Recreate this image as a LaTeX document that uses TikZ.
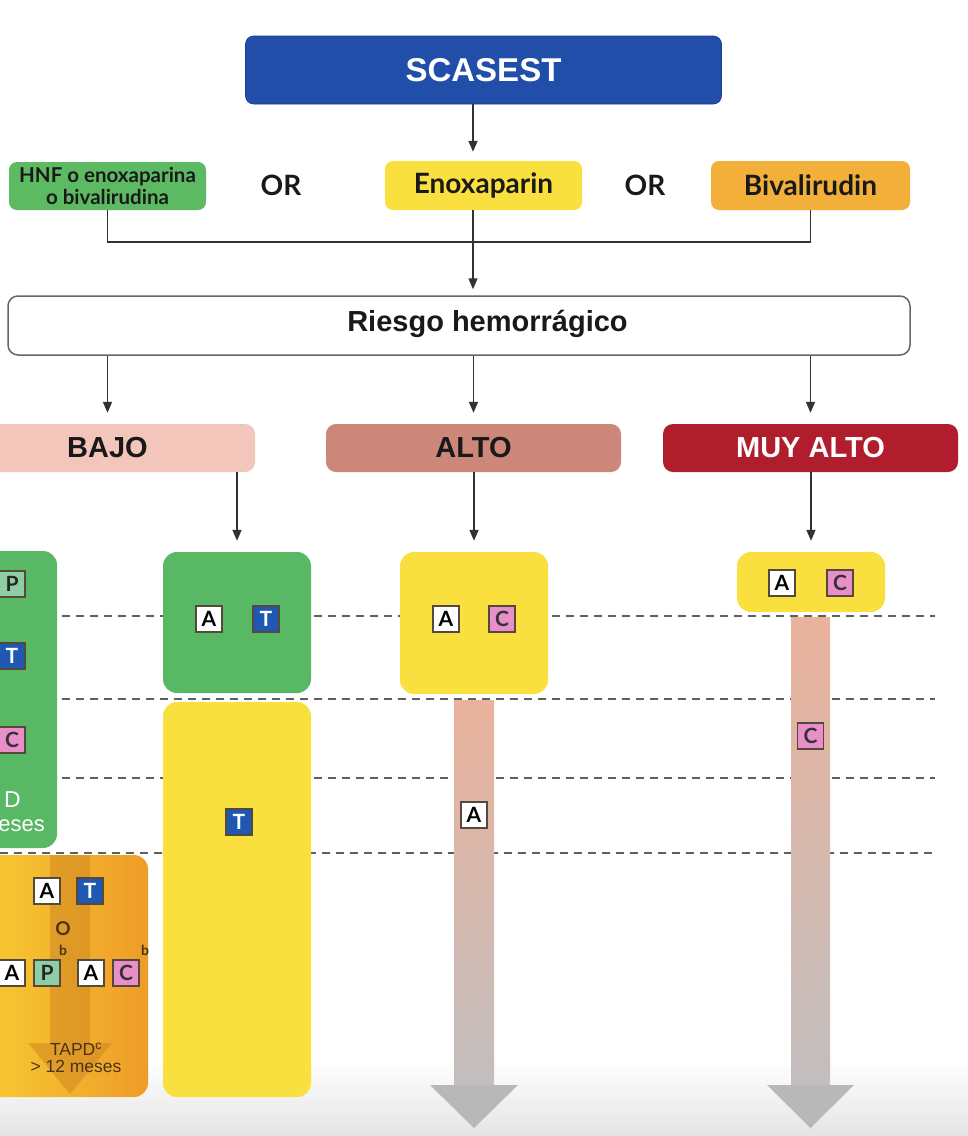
\documentclass[tikz,border=0pt]{standalone}
\usepackage{fontspec}
\setmainfont{Liberation Sans}
\newfontfamily\lato{Lato}
\usetikzlibrary{arrows.meta,calc}
\definecolor{scblue}{RGB}{33,78,168}
\definecolor{hnfgreen}{RGB}{92,186,98}
\definecolor{boxgreen}{RGB}{88,184,100}
\definecolor{enoyellow}{RGB}{250,224,62}
\definecolor{bivorange}{RGB}{242,176,58}
\definecolor{bajopink}{RGB}{242,198,186}
\definecolor{altorose}{RGB}{205,135,122}
\definecolor{muyred}{RGB}{176,30,45}
\definecolor{tblue}{RGB}{30,88,178}
\definecolor{cpink}{RGB}{232,142,200}
\definecolor{pgreen}{RGB}{142,206,164}
\definecolor{lbord}{RGB}{85,72,60}
\definecolor{conn}{RGB}{50,50,50}
\definecolor{dashcol}{RGB}{95,95,95}
\definecolor{barsalmon}{RGB}{234,178,156}
\definecolor{bargray}{RGB}{194,190,190}
\definecolor{headgray}{RGB}{184,184,184}
\definecolor{txtbrown}{RGB}{75,50,25}
\definecolor{oryellow}{RGB}{250,214,52}
\definecolor{ororange}{RGB}{238,156,40}
\definecolor{bandcol}{RGB}{200,125,30}
\definecolor{bottomgray}{RGB}{228,228,228}
\tikzset{
  lbox/.style={draw=lbord, line width=1.2pt, minimum size=26pt, inner sep=0pt,
    font=\lato\bfseries\fontsize{21}{21}\selectfont},
  boxA/.style={lbox, fill=white, text=black},
  boxT/.style={lbox, fill=tblue, text=white},
  boxC/.style={lbox, fill=cpink, text=black!80},
  boxP/.style={lbox, fill=pgreen, text=black!85},
  arr/.style={-{Triangle[length=11pt,width=9pt]}, draw=conn, line width=1.5pt},
  conline/.style={draw=conn, line width=1.5pt},
  dashl/.style={draw=dashcol, line width=1.7pt, dash pattern=on 8pt off 6pt},
  topbox/.style={rounded corners=8pt, inner sep=0pt, text=black!90,
    font=\lato\bfseries\fontsize{28}{30}\selectfont},
  riskbox/.style={rounded corners=10pt, inner sep=0pt, minimum width=295pt, minimum height=48pt,
    font=\bfseries\fontsize{29}{30}\selectfont},
  colbox/.style={rounded corners=14pt, inner sep=0pt},
  ortext/.style={font=\lato\bfseries\fontsize{28}{30}\selectfont, text=black!90},
  smalltxt/.style={inner sep=0pt, text=txtbrown}
}
\begin{document}
\begin{tikzpicture}[x=1pt,y=-1pt]
\useasboundingbox (0,0) rectangle (968,1136);
\clip (0,0) rectangle (968,1136);
\fill[white] (0,0) rectangle (968,1136);
\shade[top color=white, bottom color=bottomgray] (0,1060) rectangle (968,1136);

% dashed guide lines
\draw[dashl] (62,616) -- (935,616);
\draw[dashl] (62,699) -- (935,699);
\draw[dashl] (62,778) -- (935,778);
\draw[dashl] (0,853) -- (935,853);

% top
\node[rounded corners=8pt, fill=scblue, draw=scblue!80!black, line width=0.6pt,
  minimum width=476pt, minimum height=68pt, inner sep=0pt, text=white,
  font=\bfseries\fontsize{33}{35}\selectfont] (scasest) at (483.5,70) {SCASEST};
\node[topbox, fill=hnfgreen, minimum width=197pt, minimum height=48pt, align=center,
  font=\lato\bfseries\fontsize{20.5}{22}\selectfont] (hnf) at (107.5,186) {HNF o enoxaparina\\o bivalirudina};
\node[ortext] (or1) at (281,185) {OR};
\node[topbox, fill=enoyellow, minimum width=197pt, minimum height=49pt] (enox) at (483.5,185.5) {Enoxaparin};
\node[ortext] (or2) at (645,185) {OR};
\node[topbox, fill=bivorange, minimum width=199pt, minimum height=49pt] (biv) at (810.5,185.5) {Bivalirudin};
\coordinate (bus) at (473,242);

\node[rounded corners=10pt, draw=black!60, line width=1.5pt, fill=white,
  minimum width=902pt, minimum height=59pt, inner sep=0pt] (riesgo) at (459,325.5) {};
\node[inner sep=0pt, font=\bfseries\fontsize{29}{30}\selectfont, text=black!90] (riesgotxt) at (487.5,324) {Riesgo hemorr\'agico};

\draw[arr, shorten >=9pt] (scasest.south -| bus) -- (enox.north -| bus);
\draw[conline] (hnf.south) |- (bus) -| (biv.south);
\draw[arr, shorten >=6pt] (enox.south -| bus) -- (riesgo.north -| bus);

% risk boxes
\node[riskbox, fill=bajopink, text=black!90] (bajo) at (107.5,448) {BAJO};
\node[riskbox, fill=altorose, text=black!90] (alto) at (473.5,448) {ALTO};
\node[riskbox, fill=muyred, text=white] (muy) at (810.5,448) {MUY ALTO};
\draw[arr, shorten >=11pt] (riesgo.south -| bajo.north) -- (bajo.north);
\draw[arr, shorten >=11pt] (riesgo.south -| alto.north) -- (alto.north);
\draw[arr, shorten >=11pt] (riesgo.south -| muy.north) -- (muy.north);

% column 1 (cut at left edge)
\node[colbox, fill=boxgreen, minimum width=157pt, minimum height=297pt] (g1) at (-21.5,699.5) {};
\node[boxP] (p1) at (12,584) {P};
\node[boxT] (t1) at (12,656) {T};
\node[boxC] (c1) at (12,740) {C};
\node[anchor=east, inner sep=0pt, text=white, font=\fontsize{23}{23}\selectfont] (d1) at (21,800) {D};
\node[anchor=east, inner sep=0pt, text=white, font=\fontsize{22}{22}\selectfont] (m1) at (45,826) {eses};

\node[colbox, left color=oryellow, right color=ororange, minimum width=208pt, minimum height=242pt] (ob) at (44,976) {};
\fill[bandcol, opacity=0.45] (50,855) -- (90,855) -- (90,1043) -- (112,1043) -- (70,1094) -- (28,1043) -- (50,1043) -- cycle;
\node[boxA] (oa1) at (47,891) {A};
\node[boxT] (ot1) at (90,891) {T};
\node[smalltxt, font=\lato\bfseries\fontsize{19}{19}\selectfont] (oo) at (63,929) {O};
\node[boxA] (oa2) at (12,973) {A};
\node[boxP] (op2) at (47,973) {P};
\node[boxA] (oa3) at (91,973) {A};
\node[boxC] (oc3) at (126,973) {C};
\node[smalltxt, font=\lato\bfseries\fontsize{14}{14}\selectfont] (ob1) at (63,950) {b};
\node[smalltxt, font=\lato\bfseries\fontsize{14}{14}\selectfont] (ob2) at (145,950) {b};
\node[smalltxt, font=\fontsize{17.5}{18}\selectfont] (otapd) at (76,1049) {TAPD\textsuperscript{c}};
\node[smalltxt, font=\fontsize{17.5}{18}\selectfont] (omes) at (76,1066) {> 12 meses};

% column 2
\node[colbox, fill=boxgreen, minimum width=148pt, minimum height=141pt] (g2) at (237,622.5) {};
\node[boxA] (a2) at (209,619) {A};
\node[boxT] (t2) at (266,619) {T};
\node[colbox, fill=enoyellow, minimum width=148pt, minimum height=395pt] (y2) at (237,899.5) {};
\node[boxT] (t2b) at (239,822) {T};
\draw[arr, shorten >=11pt] (bajo.south -| g2.north) -- (g2.north);

% column 3
\node[colbox, fill=enoyellow, minimum width=148pt, minimum height=142pt] (y3) at (474,623) {};
\node[boxA] (a3) at (446,619) {A};
\node[boxC] (c3) at (502,619) {C};
\draw[arr, shorten >=11pt] (alto.south -| y3.north) -- (y3.north);
\shade[top color=barsalmon, bottom color=bargray] (454,700) rectangle (494,1086);
\fill[headgray] (430,1085) -- (518,1085) -- (474,1128) -- cycle;
\node[boxA] (a3b) at (474,815) {A};

% column 4
\node[colbox, fill=enoyellow, minimum width=148pt, minimum height=60pt] (y4) at (811,582) {};
\node[boxA] (a4) at (782,583) {A};
\node[boxC] (c4) at (840,583) {C};
\draw[arr, shorten >=11pt] (muy.south -| y4.north) -- (y4.north);
\shade[top color=barsalmon, bottom color=bargray] (791,617) rectangle (830,1086);
\fill[headgray] (767,1085) -- (854,1085) -- (810.5,1128) -- cycle;
\node[boxC] (c4b) at (810.5,736) {C};
\end{tikzpicture}
\end{document}
